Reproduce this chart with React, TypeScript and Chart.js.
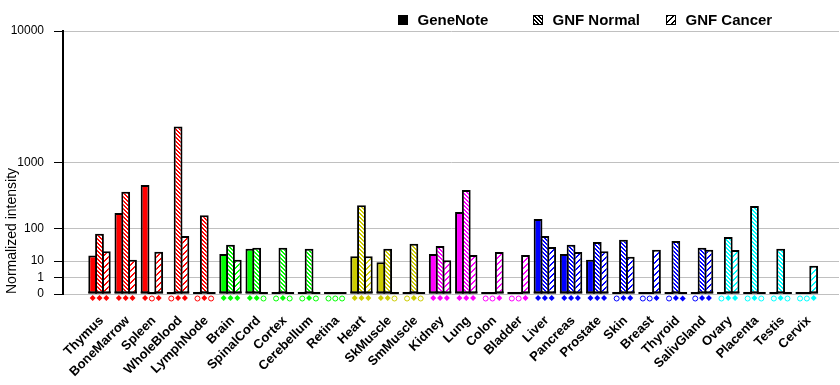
import React, { useEffect, useRef } from 'react';
import { Chart, registerables, LinearScale } from 'chart.js';

Chart.register(...registerables);

// ---------- data ----------
const categories = [
  'Thymus', 'BoneMarrow', 'Spleen', 'WholeBlood', 'LymphNode', 'Brain', 'SpinalCord', 'Cortex',
  'Cerebellum', 'Retina', 'Heart', 'SkMuscle', 'SmMuscle', 'Kidney', 'Lung', 'Colon', 'Bladder',
  'Liver', 'Pancreas', 'Prostate', 'Skin', 'Breast', 'Thyroid', 'SalivGland', 'Ovary', 'Placenta',
  'Testis', 'Cervix',
];
const tissueGroup = [
  'immune', 'immune', 'immune', 'immune', 'immune', 'neural', 'neural', 'neural',
  'neural', 'neural', 'muscle', 'muscle', 'muscle', 'tract', 'tract', 'tract', 'tract',
  'gland', 'gland', 'gland', 'gland', 'gland', 'gland', 'gland', 'repro', 'repro',
  'repro', 'repro',
];
const seriesNames = ['GeneNote', 'GNF Normal', 'GNF Cancer'];
const geneNote = [17, 200, 535, 0, 0, 19, 29, 0, 0, 0, 16, 9, 0, 19, 209, 0, 0, 155, 19, 11.5, 0, 0, 0, 0, 0, 0, 0, 0];
const gnfNormal = [75, 435, 0, 2230, 183, 38, 31, 31, 29, 0, 272, 29, 41, 35, 458, 0, 0, 66, 38, 46, 53, 0, 49, 31, 62, 263, 29, 0];
const gnfCancer = [24, 11.5, 23, 66, 0, 11.5, 0, 0, 0, 0, 16, 0, 0, 11, 17.5, 22.5, 17.5, 33, 22.5, 24, 15, 27, 0, 27, 26.5, 0, 0, 6];
const geneNotePresent = [1, 1, 1, 0, 0, 1, 1, 0, 0, 0, 1, 1, 0, 1, 1, 0, 0, 1, 1, 1, 0, 0, 0, 0, 0, 0, 0, 0];
const gnfNormalPresent = [1, 1, 0, 1, 1, 1, 1, 1, 1, 0, 1, 1, 1, 1, 1, 0, 0, 1, 1, 1, 1, 0, 1, 1, 1, 1, 1, 0];
const gnfCancerPresent = [1, 1, 1, 1, 0, 1, 0, 0, 0, 0, 1, 0, 0, 1, 1, 1, 1, 1, 1, 1, 1, 1, 1, 1, 1, 0, 0, 1];
const yTickValues = [0, 1, 10, 100, 1000, 10000];

// ---------- styles ----------
const groupColors: Record<string, string> = {
  immune: '#FF0000',
  neural: '#00FF00',
  muscle: '#CCCC00',
  tract: '#FF00FF',
  gland: '#0000FF',
  repro: '#00FFFF',
};
const FONT = 'Arial, "Liberation Sans", sans-serif';

// y = v^log10(2): each decade doubles the distance from zero
const EXP = Math.log10(2);
const tf = (v: number) => Math.pow(Math.max(v, 0), EXP);

class PowerScale extends LinearScale {
  static id = 'power';
  static defaults = {};
  buildTicks() {
    return yTickValues.map((v) => ({ value: v }));
  }
  getPixelForValue(value: number) {
    const lo = tf(this.min), hi = tf(this.max);
    return this.getPixelForDecimal((tf(value) - lo) / (hi - lo));
  }
  getValueForPixel(pixel: number) {
    const lo = tf(this.min), hi = tf(this.max);
    const u = lo + this.getDecimalForPixel(pixel) * (hi - lo);
    return Math.pow(u, 1 / EXP);
  }
}
Chart.register(PowerScale as any);

function makePattern(color: string, kind: 'normal' | 'cancer') {
  const n = kind === 'normal' ? 4 : 6;
  const c = document.createElement('canvas');
  c.width = n;
  c.height = n;
  const g = c.getContext('2d')!;
  g.fillStyle = color;
  g.fillRect(0, 0, n, n);
  g.fillStyle = '#FFFFFF';
  for (let y = 0; y < n; y++) {
    for (let x = 0; x < n; x++) {
      const white = kind === 'normal' ? ((x - y) % n + n) % n < 2 : (x + y) % n < 4;
      if (white) g.fillRect(x, y, 1, 1);
    }
  }
  return g.createPattern(c, 'repeat')!;
}

export default function App() {
  const ref = useRef<HTMLCanvasElement | null>(null);

  useEffect(() => {
    const canvas = ref.current;
    if (!canvas) return;

    const normalPat: Record<string, CanvasPattern> = {};
    const cancerPat: Record<string, CanvasPattern> = {};
    Object.keys(groupColors).forEach((k) => {
      normalPat[k] = makePattern(groupColors[k], 'normal');
      cancerPat[k] = makePattern(groupColors[k], 'cancer');
    });
    const legendFills = ['#000000', makePattern('#000000', 'normal'), makePattern('#000000', 'cancer')];
    const presence = [geneNotePresent, gnfNormalPresent, gnfCancerPresent];

    const overlay = {
      id: 'overlay',
      afterDatasetsDraw(chart: any) {
        const ctx = chart.ctx as CanvasRenderingContext2D;
        ctx.save();
        chart.data.datasets.forEach((_: any, d: number) => {
          const meta = chart.getDatasetMeta(d);
          meta.data.forEach((el: any, i: number) => {
            const { x, width, base } = el.getProps(['x', 'width', 'base'], true);
            const color = groupColors[tissueGroup[i]];
            ctx.fillStyle = '#000';
            ctx.fillRect(x - width / 2, base - 2, width, 2);
            const my = base + 4.5;
            ctx.beginPath();
            if (presence[d][i]) {
              ctx.moveTo(x, my - 3);
              ctx.lineTo(x + 3, my);
              ctx.lineTo(x, my + 3);
              ctx.lineTo(x - 3, my);
              ctx.closePath();
              ctx.fillStyle = color;
              ctx.fill();
            } else {
              ctx.arc(x, my, 2.5, 0, Math.PI * 2);
              ctx.fillStyle = '#fff';
              ctx.fill();
              ctx.strokeStyle = color;
              ctx.lineWidth = 1;
              ctx.stroke();
            }
          });
        });
        ctx.restore();
      },
      afterDraw(chart: any) {
        const ctx = chart.ctx as CanvasRenderingContext2D;
        const xs = [398, 533, 666];
        ctx.save();
        ctx.font = `bold 15px ${FONT}`;
        ctx.textBaseline = 'middle';
        ctx.textAlign = 'left';
        seriesNames.forEach((name, k) => {
          const x = xs[k];
          ctx.fillStyle = legendFills[k] as any;
          ctx.fillRect(x, 15, 10, 10);
          ctx.strokeStyle = '#000';
          ctx.lineWidth = 1;
          ctx.strokeRect(x + 0.5, 15.5, 9, 9);
          ctx.fillStyle = '#000';
          ctx.fillText(name, x + 19.5, 21);
        });
        ctx.restore();
      },
    };

    const mk = (vals: number[]) => vals.map((v, i) => ({ x: i, y: v }));

    const chart = new Chart(canvas, {
      type: 'bar',
      data: {
        datasets: [
          {
            label: seriesNames[0],
            data: mk(geneNote) as any,
            backgroundColor: (c: any) => groupColors[tissueGroup[c.dataIndex]],
          },
          {
            label: seriesNames[1],
            data: mk(gnfNormal) as any,
            backgroundColor: (c: any) => normalPat[tissueGroup[c.dataIndex]],
          },
          {
            label: seriesNames[2],
            data: mk(gnfCancer) as any,
            backgroundColor: (c: any) => cancerPat[tissueGroup[c.dataIndex]],
          },
        ],
      },
      options: {
        responsive: false,
        animation: false,
        events: [],
        layout: { padding: { top: 31, right: 1, left: 0, bottom: 0 } },
        datasets: {
          bar: {
            borderColor: '#000000',
            borderWidth: 2,
            borderSkipped: false,
            categoryPercentage: 0.78,
            barPercentage: 1.29,
            grouped: true,
          },
        } as any,
        plugins: {
          legend: { display: false },
          tooltip: { enabled: false },
        },
        scales: {
          x: {
            type: 'linear',
            offset: false,
            min: -1.393,
            max: 28.227,
            grid: { display: false, offset: false },
            border: { display: false },
            afterBuildTicks: (scale: any) => {
              scale.ticks = categories.map((_, i) => ({ value: i }));
            },
            afterFit: (scale: any) => {
              scale.height = 91;
            },
            ticks: {
              autoSkip: false,
              minRotation: 45,
              maxRotation: 45,
              padding: 11,
              labelOffset: 2,
              color: '#000',
              font: { family: FONT, size: 13, weight: 'bold' },
              callback: (v: any) => categories[v as number] ?? '',
            },
          } as any,
          y: {
            type: 'power',
            min: 0,
            max: 10000,
            afterFit: (scale: any) => {
              scale.width = 63;
            },
            grid: {
              color: '#C0C0C0',
              lineWidth: 1,
              tickColor: '#000000',
              tickLength: 9,
              tickWidth: 1,
            },
            border: { display: true, color: '#000000', width: 2 },
            ticks: {
              padding: 10,
              color: '#000',
              font: { family: FONT, size: 12 },
              callback: (v: any) => String(v),
            },
            title: {
              display: true,
              text: 'Normalized intensity',
              align: 'start',
              color: '#000',
              font: { family: FONT, size: 14 },
              padding: { top: 4, bottom: 0 },
            },
          } as any,
        },
      },
      plugins: [overlay],
    });

    return () => chart.destroy();
  }, []);

  return (
    <div style={{ position: 'fixed', left: 0, top: 0, width: 840, height: 385, background: '#fff' }}>
      <canvas ref={ref} width={840} height={385} style={{ display: 'block' }} />
    </div>
  );
}
